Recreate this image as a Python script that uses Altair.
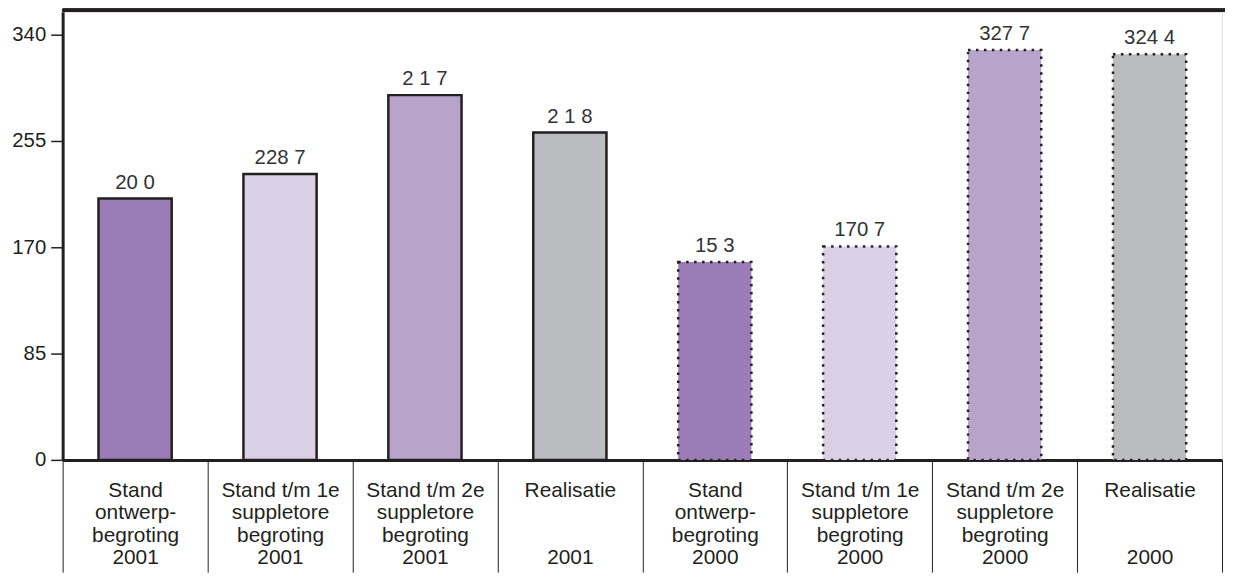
import altair as alt
import pandas as pd

ZW = "\u200b"
categories = [
    "Stand|ontwerp-|begroting|2001",
    "Stand t/m 1e|suppletore|begroting|2001",
    "Stand t/m 2e|suppletore|begroting|2001",
    "Realisatie|" + ZW + "|" + ZW + "|2001",
    "Stand|ontwerp-|begroting|2000",
    "Stand t/m 1e|suppletore|begroting|2000",
    "Stand t/m 2e|suppletore|begroting|2000",
    "Realisatie|" + ZW + "|" + ZW + "|2000",
]
series = ["ontwerp", "1e", "2e", "realisatie", "ontwerp", "1e", "2e", "realisatie"]
years = ["2001", "2001", "2001", "2001", "2000", "2000", "2000", "2000"]
values = [209.0, 228.7, 291.7, 261.8, 158.3, 170.7, 327.7, 324.4]
value_labels = ["20  0", "228 7", "2 1 7", "2 1 8", "15  3", "170 7", "327 7", "324 4"]
y_ticks = [0, 85, 170, 255, 340]

series_domain = ["ontwerp", "1e", "2e", "realisatie"]
series_colors = ["#9a7cb7", "#dad1e6", "#b8a3cb", "#bbbcc0"]

df = pd.DataFrame({
    "cat": categories,
    "serie": series,
    "jaar": years,
    "waarde": values,
    "label": value_labels,
})

W, H = 1167, 451
FONT = "Liberation Sans"
TICK_X = 113

x_enc = alt.X(
    "cat:N",
    sort=categories,
    scale=alt.Scale(paddingInner=0, paddingOuter=0),
    axis=alt.Axis(
        title=None,
        labelExpr="datum.value ? split(datum.value, '|') : ''",
        labelAngle=0,
        labelFontSize=21,
        labelLineHeight=22.5,
        labelBaseline="top",
        labelColor="#231f20",
        labelFont=FONT,
        labelPadding=20 - TICK_X,
        labelOverlap=False,
        labelLimit=0,
        tickBand="extent",
        tickSize=TICK_X,
        tickWidth=1,
        tickColor="#231f20",
        domainWidth=3,
        domainColor="#231f20",
    ),
)
y_enc = alt.Y(
    "waarde:Q",
    scale=alt.Scale(domain=[0, 358.3], nice=False, zero=True),
    axis=alt.Axis(
        title=None,
        values=y_ticks,
        grid=False,
        tickSize=12,
        tickWidth=1.5,
        tickColor="#231f20",
        labelFontSize=20.5,
        labelFont=FONT,
        labelColor="#231f20",
        labelPadding=5,
        domainWidth=3,
        domainColor="#231f20",
    ),
)
fill_enc = alt.Fill(
    "serie:N",
    scale=alt.Scale(domain=series_domain, range=series_colors),
    legend=None,
)

base = alt.Chart(df)
bw = alt.RelativeBandSize(0.505)

solid = base.transform_filter(alt.datum.jaar == "2001").mark_bar(
    stroke="#231f20", strokeWidth=2.5, width=bw
).encode(x=x_enc, y=y_enc, fill=fill_enc)

dotted = base.transform_filter(alt.datum.jaar == "2000").mark_bar(
    stroke="#231f20", strokeWidth=2.5, strokeDash=[2.5, 5.5], width=bw
).encode(x=x_enc, y=y_enc, fill=fill_enc)

labels = base.mark_text(
    baseline="alphabetic", dy=-10, fontSize=20.5, font=FONT, color="#333333"
).encode(x=x_enc, y=y_enc, text="label:N")

top_line = base.mark_rule(color="#231f20", strokeWidth=3).encode(
    x=alt.value(0), x2=alt.value(W + 3), y=alt.value(-1.5)
)

chart = alt.layer(solid, dotted, labels, top_line).properties(
    width=W,
    height=H,
    autosize=alt.AutoSizeParams(type="none"),
    padding={"left": 55, "top": 2, "right": 3, "bottom": 113},
).configure_view(stroke=None).configure(font=FONT)

chart.save("out.html", embed_options={"renderer": "svg", "actions": False})
